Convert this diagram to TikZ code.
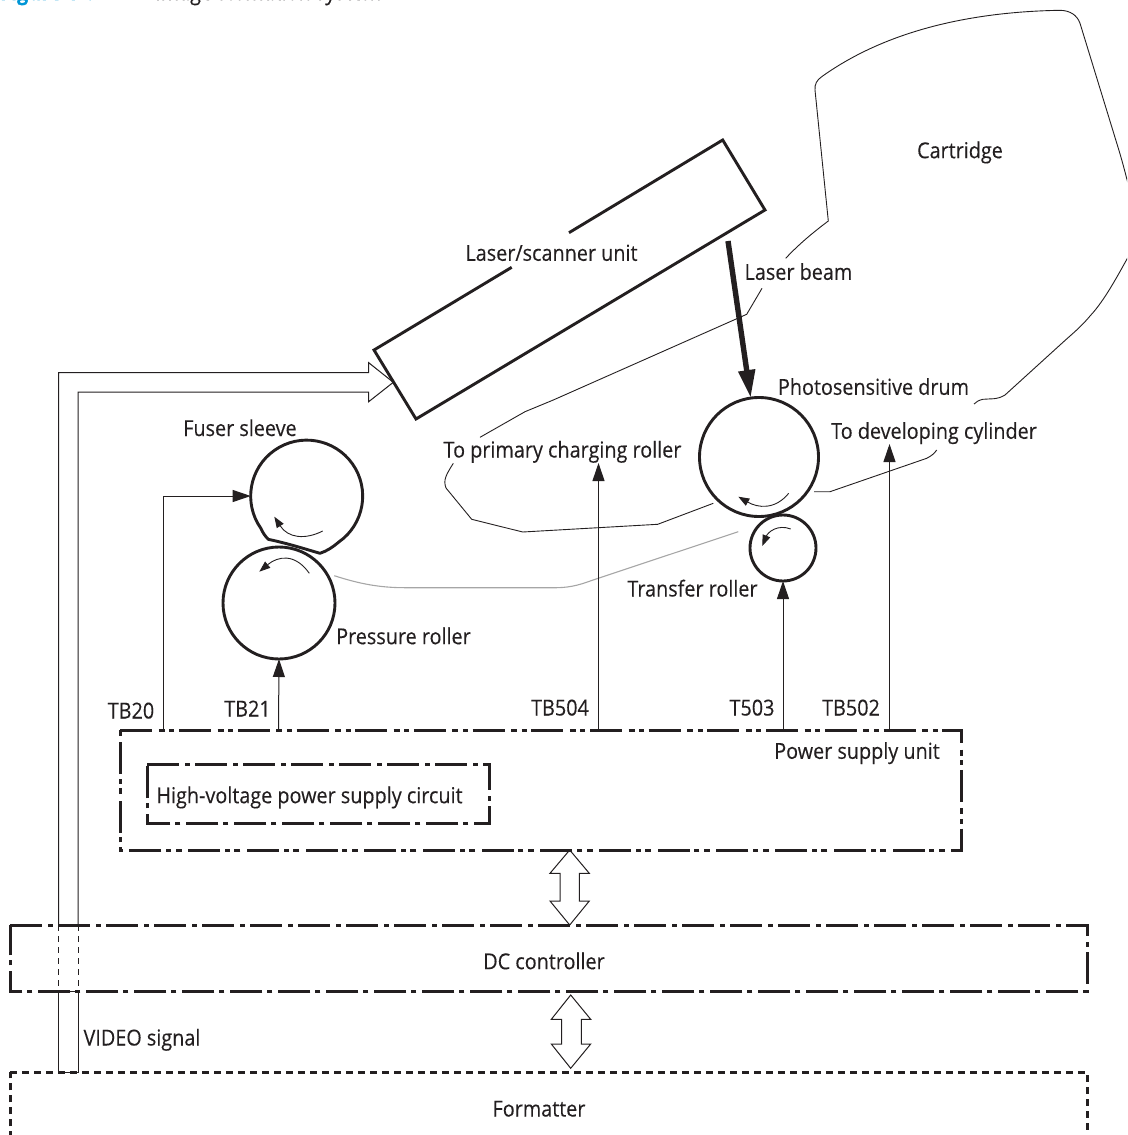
\documentclass[tikz,border=0pt]{standalone}
\usepackage{fontspec}
\setmainfont[FakeStretch=0.9,FakeBold=0.25]{Open Sans}
\usetikzlibrary{arrows.meta}
\definecolor{ink}{HTML}{231F20}
\definecolor{hpblue}{HTML}{0096D6}
\tikzset{
  lbl/.style={inner sep=0pt,text=ink,anchor=base,yshift=-1.5pt,font=\fontsize{22}{24}\selectfont},
  bold/.style={draw=ink,line width=2.9pt,line join=miter},
  boxline/.style={draw=ink,line width=3.3pt,line join=miter},
  thin/.style={draw=ink,line width=1pt},
  hair/.style={draw=ink,line width=0.9pt},
  paper/.style={draw=black!35,line width=1.1pt},
  roller/.style={circle,draw=ink,line width=2.9pt,inner sep=0pt,outer sep=0pt},
  unitbox/.style={rectangle,inner sep=0pt,outer sep=0pt,anchor=north west},
  dddash/.style={dash pattern=on 32pt off 6.5pt on 6pt off 4.5pt on 5pt off 4.7pt},
  ddash/.style={dash pattern=on 32pt off 6pt on 5pt off 5pt},
  fdash/.style={dash pattern=on 7pt off 5pt},
  arr/.style={thin,-{Triangle[length=18pt,width=12pt,fill=ink]}},
  small/.style={hair,-{Triangle[length=11pt,width=8pt,fill=ink]}},
}
\begin{document}
\begin{tikzpicture}[x=1pt,y=-1pt]
\useasboundingbox (0,0) rectangle (1127,1135);
\clip (0,0) rectangle (1127,1135);

% title, cut by the top of the page
\node[lbl,anchor=base west,text=hpblue] (figno) at (0,-1.5) {\textbf{Figure 1-6}};
\node[lbl,anchor=base west] (figtitle) at (155,-1.5) {Image-formation system};

% rollers
\node[roller,minimum size=112pt] (press) at (279,603) {};
\node[circle,inner sep=0pt,outer sep=0pt,minimum size=112pt] (fuser) at (306.7,496) {};
\node[roller,minimum size=119pt] (drum) at (759,457) {};
\node[roller,minimum size=66pt] (trans) at (783,548) {};
\coordinate (fa) at (338.8,542);
\draw[bold,line join=round] (fa) arc[start angle=-55,end angle=215,radius=56pt]
  .. controls (263,533) and (265,536) .. (268.3,539.3)
  .. controls (290,544) and (305,549) .. (320,553.3)
  .. controls (327,551) and (333,547) .. (fa) -- cycle;

% units
\node[unitbox,minimum width=841pt,minimum height=120pt] (psu) at (120.4,730.4) {};
\node[unitbox,minimum width=342pt,minimum height=59pt] (hv) at (147.4,764.4) {};
\node[unitbox,minimum width=1077pt,minimum height=66pt] (dc) at (10.4,925.4) {};
\node[unitbox,minimum width=1077pt,minimum height=120pt] (fmt) at (10.4,1072.4) {};
\draw[boxline,dddash] (psu.north west) -- (psu.north east) -- (psu.south east) -- (psu.south west) -- cycle;
\draw[boxline,ddash] (hv.north west) -- (hv.north east) -- (hv.south east) -- (hv.south west) -- cycle;
\draw[boxline,ddash] (dc.north west) -- (dc.north east) -- (dc.south east) -- (dc.south west) -- cycle;
\draw[boxline,fdash] (fmt.north west) -- (fmt.north east) -- (fmt.south east) -- (fmt.south west) -- cycle;

% laser unit
\draw[bold] (511.7,267.3) -- (374,350) -- (416,419) -- (765,210) -- (722.7,140) -- (569,232.7);

% cartridge
\draw[hair] (785.7,258.3) .. controls (800,243) and (815,231) .. (828.3,221) -- (815,90)
  .. controls (814.5,84) and (817,80) .. (821.7,76.7)
  .. controls (880,35) and (960,12) .. (1060,10.3)
  .. controls (1070,10.5) and (1077,15) .. (1080,23.3)
  -- (1116.7,143) .. controls (1122,160) and (1126,175) .. (1132,200);
\draw[hair] (1132,250) .. controls (1118,275) and (1105,300) .. (1090,316)
  .. controls (1080,328) and (1073,333) .. (1060,345) -- (1005,395)
  .. controls (997,400) and (990,398.5) .. (983,399.3) .. controls (979,400) and (976,402) .. (974,404);

% leader lines
\draw[hair] (762,288.3) -- (746.7,314.3) -- (553.3,400) -- (525,411.7) -- (480,437.3);
\draw[hair] (453.3,463.3) .. controls (446,475) and (443,480) .. (446,488) -- (471.7,519.3)
  -- (522.7,532) -- (657.7,524.3) -- (713.3,503.3);
\draw[hair] (814,491.7) -- (830,491.7) -- (926.7,458.3) .. controls (931,456) and (934,454) .. (936.7,450);

% paper path
\draw[paper] (334.3,575.7) .. controls (360,584) and (380,587.7) .. (405,587.7) -- (556.7,587.7)
  .. controls (572,587.5) and (582,584) .. (593,580) -- (738.3,531.7);

% connectors
\coordinate (t20) at (163.5,730);
\coordinate (t21) at (278.5,730);
\coordinate (t504) at (598.5,730);
\coordinate (t503) at (783,730);
\coordinate (t502) at (889.5,730);
\coordinate (t504e) at (598.5,463);
\coordinate (t502e) at (889.5,444);
\draw[arr] (t20) |- (fuser.west);
\draw[arr] (t21) -- (press.south);
\draw[arr] (t504) -- (t504e);
\draw[arr] (t503) -- (trans.south);
\draw[arr] (t502) -- (t502e);

% laser beam
\coordinate (lb) at (728,241);
\draw[draw=ink,line width=5.4pt,-{Triangle[length=28pt,width=16pt,fill=ink]}] (lb) -- (750.7,398);

% rotation arrows
\draw[small] (322.7,531) .. controls (305,540) and (288,538) .. (274.3,516.7);
\draw[small] (309.3,573.3) .. controls (295,553) and (278,556) .. (259.3,571.7);
\draw[small] (788.7,493.3) .. controls (775,510) and (758,508) .. (738.3,496.7);
\draw[small] (790.7,529) .. controls (778,524) and (768,532) .. (762.3,546);

% video signal
\coordinate (vl1) at (58.5,925);
\coordinate (vr1) at (78,925);
\coordinate (vl2) at (58.5,991);
\coordinate (vr2) at (78,991);
\coordinate (vl3) at (58.5,1072);
\coordinate (vr3) at (78,1072);
\draw[thin,line join=miter] (vl1) -- (58.5,372.7) -- (368.7,372.7) -- (368.7,362.7) -- (393.3,382.3)
  -- (368.7,401.7) -- (368.7,392) -- (78,392) -- (vr1);
\draw[thin,dash pattern=on 6pt off 5pt] (vl1) -- (vl2);
\draw[thin,dash pattern=on 6pt off 5pt] (vr1) -- (vr2);
\draw[thin,line join=miter] (vl2) -- (vl3) -- (vr3) -- (vr2) -- cycle;

% double arrows
\draw[thin,line join=miter] (569.7,850) -- (589.3,873.3) -- (579.3,873.3) -- (579.3,901) -- (589.3,901)
  -- (569.7,925) -- (550,901) -- (560,901) -- (560,873.3) -- (550,873.3) -- cycle;
\draw[thin,line join=miter] (570.7,995) -- (590.7,1019.3) -- (581.3,1019.3) -- (581.3,1044) -- (590.7,1044)
  -- (570.7,1068.3) -- (551.3,1044) -- (561.7,1044) -- (561.7,1019.3) -- (551.3,1019.3) -- cycle;

% labels
\node[lbl] (lcart) at (960,156.7) {Cartridge};
\node[lbl] (llsu) at (551.5,259.3) {Laser/scanner unit};
\node[lbl] (lbeam) at (798.5,278.3) {Laser beam};
\node[lbl] (lphoto) at (873.5,393.3) {Photosensitive drum};
\node[lbl] (ldev) at (934,437.3) {To developing cylinder};
\node[lbl] (lprim) at (562.5,456) {To primary charging roller};
\node[lbl] (lfus) at (240,434.5) {Fuser sleeve};
\node[lbl] (lpres) at (403.5,642.7) {Pressure roller};
\node[lbl] (ltrans) at (692.5,595) {Transfer roller};
\node[lbl] (l20) at (131,717) {TB20};
\node[lbl] (l21) at (247.5,715) {TB21};
\node[lbl] (l504) at (560,714) {TB504};
\node[lbl] (l503) at (752,714) {T503};
\node[lbl] (l502) at (851,714) {TB502};
\node[lbl] (lpsu) at (857,757.3) {Power supply unit};
\node[lbl] (lhv) at (309.5,801.7) {High-voltage power supply circuit};
\node[lbl] (ldc) at (544,967.7) {DC controller};
\node[lbl] (lvid) at (142,1044) {VIDEO signal};
\node[lbl] (lfmt) at (539,1115) {Formatter};
\end{tikzpicture}
\end{document}
